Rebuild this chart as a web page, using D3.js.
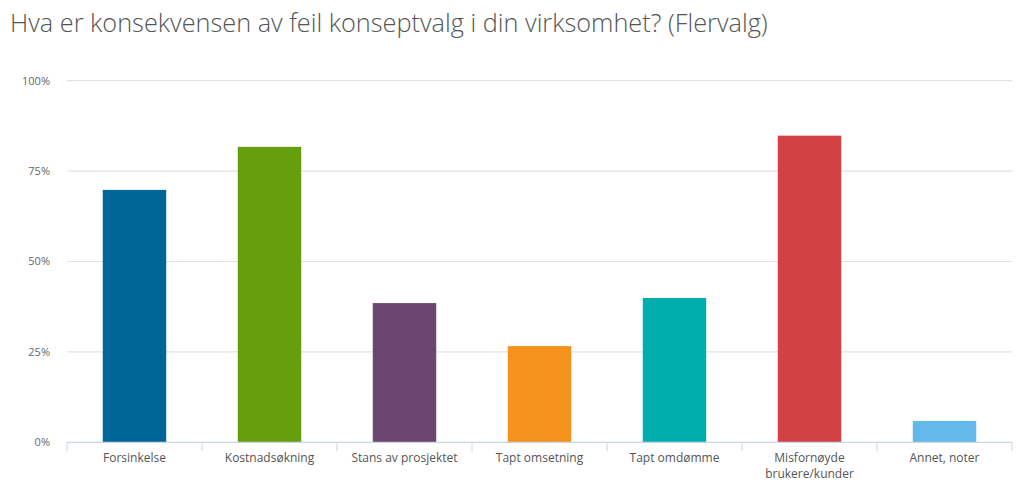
<!DOCTYPE html>
<html><head><meta charset="utf-8">
<script src="https://cdn.jsdelivr.net/npm/d3@7"></script>
<style>
body{margin:0;background:#fff;}
svg{display:block;font-family:"Open Sans",sans-serif;}
</style></head>
<body>
<svg id="c" width="1024" height="485"></svg>
<script>
const categories = ["Forsinkelse","Kostnadsøkning","Stans av prosjektet","Tapt omsetning","Tapt omdømme","Misfornøyde brukere/kunder","Annet, noter"];
const labelLines = [["Forsinkelse"],["Kostnadsøkning"],["Stans av prosjektet"],["Tapt omsetning"],["Tapt omdømme"],["Misfornøyde","brukere/kunder"],["Annet, noter"]];
const values = [69.8, 81.7, 38.5, 26.6, 39.9, 84.8, 5.9];
const colors = ["#006699","#669e0e","#6c4571","#f5921e","#00aeae","#d24244","#63b9ea"];
const yTicks = [0,25,50,75,100];
const title = "Hva er konsekvensen av feil konseptvalg i din virksomhet? (Flervalg)";

(function(){
const svg = d3.select("#c");
const pLeft = 67, pRight = 1012, pTop = 80.7, pBottom = 442.3;
const x = d3.scaleBand().domain(categories).range([pLeft, pRight]).padding(0);
const y = d3.scaleLinear().domain([0,100]).range([pBottom, pTop]);

// title
const t = svg.append("text").attr("x", 10).attr("y", 32)
  .attr("fill", "#555").attr("font-weight", 300).attr("font-size", 24).text(title);
const w = t.node().getComputedTextLength();
t.attr("font-size", 24 * 758 / w);

// gridlines
svg.append("g").selectAll("line").data(yTicks.filter(d => d > 0)).join("line")
  .attr("x1", pLeft).attr("x2", pRight)
  .attr("y1", d => y(d)).attr("y2", d => y(d))
  .attr("stroke", "#e3e3e3").attr("stroke-width", 1.2);

// y labels
svg.append("g").selectAll("text").data(yTicks).join("text")
  .attr("x", 50).attr("y", d => y(d)).attr("dy", "0.35em")
  .attr("text-anchor", "end").attr("font-size", 11).attr("fill", "#666")
  .text(d => d + "%");

// bars
const bw = x.bandwidth() * 0.47;
svg.append("g").selectAll("rect").data(values).join("rect")
  .attr("x", (d,i) => x(categories[i]) + x.bandwidth()/2 - bw/2)
  .attr("width", bw)
  .attr("y", d => y(d)).attr("height", d => y(0) - y(d))
  .attr("fill", (d,i) => colors[i]);

// baseline
svg.append("line").attr("x1", pLeft).attr("x2", pRight).attr("y1", pBottom).attr("y2", pBottom)
  .attr("stroke", "#ccd6e0").attr("stroke-width", 1.2);
// category ticks
const bounds = categories.map(c => x(c)).concat([pRight]);
svg.append("g").selectAll("line").data(bounds).join("line")
  .attr("x1", d => d).attr("x2", d => d).attr("y1", pBottom).attr("y2", pBottom + 9)
  .attr("stroke", "#ccd6e0").attr("stroke-width", 1);

// x labels
const lg = svg.append("g").selectAll("text").data(categories).join("text")
  .attr("x", c => x(c) + x.bandwidth()/2).attr("y", 462)
  .attr("text-anchor", "middle").attr("font-size", 12).attr("fill", "#555");
lg.each(function(c, i) {
  d3.select(this).selectAll("tspan").data(labelLines[i]).join("tspan")
    .attr("x", x(c) + x.bandwidth()/2).attr("dy", (d, j) => j === 0 ? 0 : 16).text(d => d);
});
})();
</script>
</body></html>
